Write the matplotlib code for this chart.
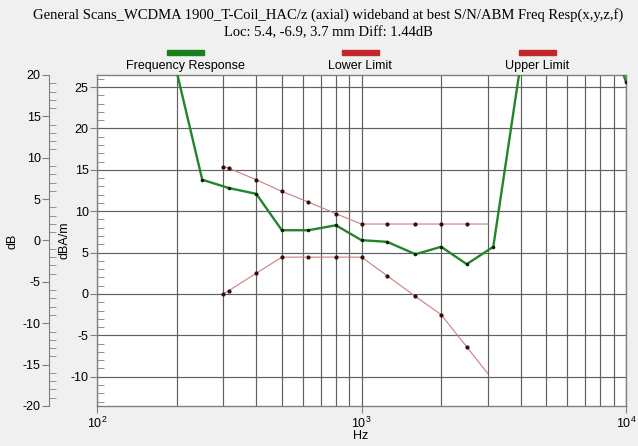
import numpy as np
import matplotlib.pyplot as plt
from matplotlib.ticker import LogLocator, MultipleLocator, NullFormatter
from matplotlib.patches import Rectangle

plt.rcParams['font.family'] = ['Liberation Sans', 'DejaVu Sans']
plt.rcParams['axes.unicode_minus'] = False

# data (dBA/m)
resp_hz = [200, 250, 315, 400, 500, 630, 800, 1000, 1250, 1600, 2000, 2500, 3150,
           4000, 5000, 6300, 8000, 10000]
resp_dbam = [26.9, 13.8, 12.8, 12.1, 7.7, 7.7, 8.3, 6.5, 6.3, 4.8, 5.7, 3.6, 5.7,
             27.9, 33.0, 34.0, 35.0, 25.6]

limit_hz = [300, 315, 400, 500, 630, 800, 1000, 1250, 1600, 2000, 2500, 3000]
lower_dbam = [0.0, 0.4, 2.5, 4.45, 4.45, 4.45, 4.45, 2.2, -0.3, -2.5, -6.4, -9.6]
upper_dbam = [15.4, 15.2, 13.8, 12.4, 11.1, 9.7, 8.45, 8.45, 8.45, 8.45, 8.45, 8.45]

ref_1k = 6.46  # dB axis is relative to this level
legend_names = ['Frequency Response', 'Lower Limit', 'Upper Limit']

W, H = 638, 446
fig = plt.figure(figsize=(W / 100, H / 100), dpi=100, facecolor='#f0f0f0')
ax = fig.add_axes([97 / W, 1 - 406 / H, (626 - 97) / W, (406 - 75) / H])
ax.set_facecolor('white')

green = '#23852a'
red_line = '#c98080'
dot = '#3a0a0a'

ax.plot(limit_hz, lower_dbam, color=red_line, lw=0.8, marker='o', ms=2.0,
        mfc=dot, mec=dot, markevery=list(range(len(limit_hz) - 1)), zorder=3)
ax.plot(limit_hz, upper_dbam, color=red_line, lw=0.8, marker='o', ms=2.0,
        mfc=dot, mec=dot, markevery=list(range(len(limit_hz) - 1)), zorder=3)
ax.plot(resp_hz, resp_dbam, color=green, lw=1.7, marker='o', ms=1.6,
        mfc='#102010', mec='#102010', zorder=4)

ax.set_xscale('log')
ax.set_xlim(100, 10000)
ax.set_ylim(-20 + ref_1k, 20 + ref_1k)

ax.xaxis.set_major_locator(LogLocator(base=10, numticks=5))
ax.xaxis.set_minor_locator(LogLocator(base=10, subs=np.arange(2, 10), numticks=20))
ax.xaxis.set_minor_formatter(NullFormatter())
ax.yaxis.set_major_locator(MultipleLocator(5))
ax.yaxis.set_minor_locator(MultipleLocator(1))

ax.grid(which='major', axis='both', color='#606060', lw=0.85)
ax.grid(which='minor', axis='x', color='#606060', lw=0.85)
ax.tick_params(axis='x', which='major', direction='out', length=5, color='#808080',
               labelsize=9, pad=2)
ax.tick_params(axis='x', which='minor', length=0)
ax.tick_params(axis='y', which='major', direction='out', length=5, color='#808080',
               labelsize=9, pad=1)
ax.tick_params(axis='y', which='minor', direction='in', length=5, color='#808080')
for s in ax.spines.values():
    s.set_color('#808080')
    s.set_linewidth(1.0)

# dB axis (relative), offset to the left
ax2 = ax.twinx()
ax2.set_ylim(-20, 20)
ax2.yaxis.tick_left()
ax2.spines['left'].set_position(('outward', 34.6))
ax2.spines['left'].set_color('#808080')
for k in ['right', 'top', 'bottom']:
    ax2.spines[k].set_visible(False)
ax2.yaxis.set_major_locator(MultipleLocator(5))
ax2.yaxis.set_minor_locator(MultipleLocator(1))
ax2.tick_params(axis='y', which='major', direction='out', length=5, color='#808080',
                labelsize=9, pad=1)
ax2.tick_params(axis='y', which='minor', direction='in', length=5, color='#808080')

fig.text(13 / W, 1 - 241 / H, 'dB', rotation=90, ha='center', va='center', fontsize=9)
fig.text(65 / W, 1 - 240 / H, 'dBA/m', rotation=90, ha='center', va='center', fontsize=9)
fig.text(361 / W, 1 - 436 / H, 'Hz', ha='center', va='center', fontsize=9)

# titles
fig.text(328 / W, 1 - 15 / H,
         'General Scans_WCDMA 1900_T-Coil_HAC/z (axial) wideband at best S/N/ABM Freq Resp(x,y,z,f)',
         ha='center', va='center', fontsize=10.5, family='Liberation Serif')
fig.text(328 / W, 1 - 33 / H, 'Loc: 5.4, -6.9, 3.7 mm Diff: 1.44dB',
         ha='center', va='center', fontsize=10.5, family='Liberation Serif')

# legend above the plot
legend_colors = ['#18801c', '#c0262c', '#c0262c']
legend_x = [185, 360, 537]
for name, c, xc in zip(legend_names, legend_colors, legend_x):
    fig.patches.append(Rectangle(((xc - 18.5) / W, 1 - 55 / H), 37 / W, 5 / H,
                                 transform=fig.transFigure, color=c))
    fig.text(xc / W, 1 - 66 / H, name, ha='center', va='center', fontsize=9)

fig.savefig('out.png', dpi=100, facecolor=fig.get_facecolor())
